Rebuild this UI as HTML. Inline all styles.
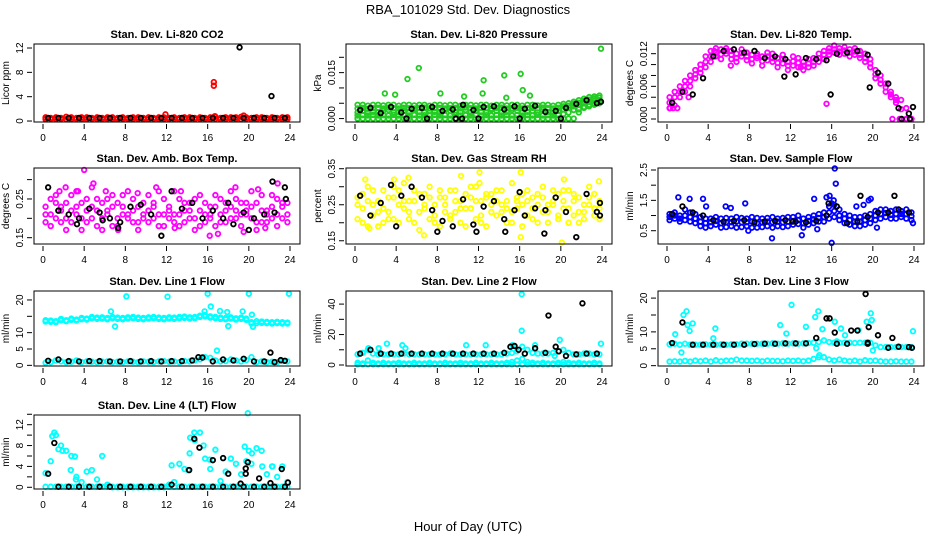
<!DOCTYPE html>
<html><head><meta charset="utf-8">
<style>
html,body{margin:0;padding:0;background:#fff;}
svg{display:block;font-family:"Liberation Sans",sans-serif;}
</style></head>
<body>
<svg id="chart" width="936" height="540" viewBox="0 0 936 540">
<text x="468" y="14" text-anchor="middle" font-size="13">RBA_101029  Std. Dev. Diagnostics</text>
<text x="468" y="531" text-anchor="middle" font-size="13">Hour of Day (UTC)</text>
</svg>
<script>
const hrs48=[0.25,0.75,1.25,1.75,2.25,2.75,3.25,3.75,4.25,4.75,5.25,5.75,6.25,6.75,7.25,7.75,8.25,8.75,9.25,9.75,10.25,10.75,11.25,11.75,12.25,12.75,13.25,13.75,14.25,14.75,15.25,15.75,16.25,16.75,17.25,17.75,18.25,18.75,19.25,19.75,20.25,20.75,21.25,21.75,22.25,22.75,23.25,23.75];
const hrs24=[0.5,1.5,2.5,3.5,4.5,5.5,6.5,7.5,8.5,9.5,10.5,11.5,12.5,13.5,14.5,15.5,16.5,17.5,18.5,19.5,20.5,21.5,22.5,23.5];
const xTicks=[0,4,8,12,16,20,24];

const co2A=[0.6,0.5,0.6,0.5,0.7,0.6,0.5,0.6,0.6,0.5,0.6,0.5,0.6,0.6,0.5,0.6,0.5,0.6,0.6,0.5,0.6,0.5,0.6,0.6,0.5,0.6,0.5,0.6,0.6,0.5,0.6,0.5,0.6,0.7,0.5,0.6,0.6,0.6,0.7,0.6,0.5,0.6,0.6,0.5,0.6,0.5,0.6,0.6];
const co2B=[0.3,0.35,0.3,0.35,0.3,0.3,0.35,0.3,0.3,0.35,0.3,0.3,0.35,0.3,0.3,0.35,0.3,0.3,0.35,0.3,0.3,0.35,0.3,0.3,0.35,0.3,0.3,0.35,0.3,0.3,0.35,0.3,0.3,0.35,0.3,0.3,0.35,0.3,0.3,0.35,0.3,0.3,0.35,0.3,0.3,0.35,0.3,0.3];
const co2OutX=[16.6,16.6,11.9,19.5,16.7];
const co2OutY=[6.4,5.8,1.1,0.9,0.8];
const co2Blk=[0.5,0.5,0.5,0.5,0.5,0.5,0.5,0.5,0.5,0.5,0.5,0.5,0.5,0.5,0.5,0.5,0.5,0.5,0.5,0.5,0.5,0.5,0.5,0.5];
const co2BlkOutX=[19.1,22.2];
const co2BlkOutY=[12.1,4.1];

const presA=[0.0045,0.0045,0.0042,0.0045,0.0045,0.0043,0.0045,0.0045,0.0042,0.0045,0.0045,0.0043,0.0045,0.0045,0.0042,0.0045,0.0045,0.0043,0.0045,0.0045,0.0042,0.0045,0.0045,0.0043,0.0045,0.0045,0.0042,0.0045,0.0045,0.0043,0.0045,0.0045,0.0042,0.0045,0.0045,0.0043,0.0045,0.0045,0.0042,0.0045,0.0048,0.005,0.0055,0.006,0.0065,0.007,0.0072,0.0075];
const presB=[0.002,0.0025,0.002,0.0022,0.002,0.0025,0.0028,0.002,0.0022,0.0025,0.002,0.0028,0.0022,0.002,0.0025,0.0022,0.002,0.0028,0.0025,0.002,0.0022,0.0028,0.002,0.0025,0.0022,0.002,0.0028,0.0025,0.002,0.0022,0.0028,0.0025,0.002,0.0022,0.0025,0.002,0.0028,0.0022,0.002,0.0025,0.003,0.0035,0.004,0.0045,0.005,0.0055,0.006,0.006];
const presC=[0.0,0.0,0.0,0.0,0.0,0.0,0.0,0.0,0.0,0.0,0.0,0.0,0.0,0.0,0.0,0.0,0.0,0.0,0.0,0.0,0.0,0.0,0.0,0.0,0.0,0.0,0.0,0.0,0.0,0.0,0.0,0.0,0.0,0.0,0.0,0.0,0.0,0.0,0.0,0.0,0.0,0.0,0.0,0.002,0.0035,0.004,0.0045,0.005];
const presD=[0.0033,0.0035,0.0032,0.0034,0.0035,0.0033,0.0036,0.0034,0.0033,0.0035,0.0034,0.0033,0.0035,0.0036,0.0033,0.0034,0.0035,0.0033,0.0034,0.0035,0.0033,0.0036,0.0034,0.0033,0.0035,0.0034,0.0033,0.0035,0.0036,0.0033,0.0034,0.0035,0.0033,0.0034,0.0035,0.0033,0.0036,0.0034,0.0033,0.0035,0.004,0.0042,0.0048,0.0052,0.0058,0.0062,0.0066,0.0068];
const presE=[0.001,0.0011,0.001,0.0012,0.001,0.0011,0.001,0.0012,0.001,0.0011,0.001,0.0012,0.001,0.0011,0.001,0.0012,0.001,0.0011,0.001,0.0012,0.001,0.0011,0.001,0.0012,0.001,0.0011,0.001,0.0012,0.001,0.0011,0.001,0.0012,0.001,0.0011,0.001,0.0012,0.001,0.0011,0.001,0.0012,0.0015,0.002,0.0028,0.003,0.0038,0.0045,0.005,0.0055];
const presOutX=[2.9,3.9,5.1,6.2,8.3,10.6,12.4,12.5,14.5,14.7,16.1,16.3,17.0,23.9];
const presOutY=[0.0082,0.0078,0.0129,0.0165,0.0082,0.0072,0.0082,0.0125,0.0141,0.0068,0.0146,0.0093,0.0075,0.0228];
const presBlk=[0.0028,0.0035,0.0018,0.0038,0.002,0.0032,0.0035,0.0038,0.0025,0.003,0.0045,0.0028,0.0038,0.004,0.003,0.004,0.0032,0.0042,0.0022,0.0025,0.0035,0.0048,0.006,0.005];
const presBlkOutX=[5,7,10.4,12,16,20,9.8,23.9];
const presBlkOutY=[0,0,0,0,0,0,0,0.0055];

const tempA=[0.004,0.005,0.006,0.007,0.008,0.009,0.010,0.0115,0.0125,0.013,0.0128,0.013,0.0125,0.012,0.0128,0.0122,0.0118,0.012,0.0115,0.0122,0.012,0.0112,0.0118,0.0105,0.0115,0.0112,0.0105,0.011,0.0112,0.012,0.0125,0.013,0.0135,0.013,0.0132,0.0128,0.013,0.0125,0.012,0.011,0.009,0.008,0.0065,0.005,0.004,0.0035,0.002,0.0];
const tempB=[0.002,0.0025,0.004,0.005,0.006,0.0075,0.0085,0.0095,0.0105,0.0115,0.011,0.012,0.011,0.0105,0.0115,0.0108,0.0102,0.0112,0.0098,0.0108,0.0105,0.0095,0.0102,0.009,0.0098,0.0095,0.009,0.0095,0.0098,0.0105,0.011,0.0118,0.0122,0.0118,0.012,0.0115,0.0118,0.0112,0.0105,0.0095,0.0075,0.0065,0.005,0.004,0.003,0.0,0.0,0.0];
const tempC=[0.003,0.004,0.005,0.006,0.007,0.0082,0.0092,0.0105,0.0115,0.0122,0.0119,0.0125,0.0118,0.0112,0.0121,0.0115,0.011,0.0116,0.0106,0.0115,0.0112,0.0103,0.011,0.0098,0.0106,0.0103,0.0098,0.0102,0.0105,0.0112,0.0118,0.0124,0.0128,0.0124,0.0126,0.0122,0.0124,0.0118,0.0112,0.0102,0.0082,0.0072,0.0058,0.0045,0.0035,0.0018,0.0,0.0];
const tempOutX=[15.5,2.1,6.2,0.3,0.6,1.0,21.9,22.6,23.3,4.6,13.0];
const tempOutY=[0.0028,0.004,0.0098,0.002,0.002,0.002,0.0,0.0,0.0,0.0125,0.0095];
const tempBlk=[0.003,0.005,0.0045,0.0075,0.0115,0.0125,0.0128,0.0122,0.0125,0.0112,0.0115,0.011,0.0082,0.0112,0.011,0.0108,0.012,0.0122,0.0125,0.0118,0.0085,0.0065,0.002,0.001];
const tempBlkOutX=[23.6,23.9,22.8,15.9,11.4,19.7];
const tempBlkOutY=[0,0.0022,0.0,0.0045,0.0078,0.0058];

const ambA=[0.23,0.21,0.26,0.19,0.24,0.22,0.27,0.2,0.25,0.23,0.18,0.24,0.22,0.26,0.2,0.23,0.21,0.25,0.19,0.24,0.22,0.2,0.27,0.21,0.23,0.19,0.25,0.22,0.24,0.2,0.26,0.21,0.23,0.18,0.25,0.22,0.27,0.2,0.24,0.21,0.23,0.19,0.26,0.22,0.2,0.25,0.23,0.21];
const ambB=[0.19,0.25,0.2,0.23,0.17,0.26,0.21,0.24,0.19,0.28,0.22,0.2,0.25,0.18,0.24,0.21,0.27,0.19,0.23,0.2,0.26,0.24,0.18,0.25,0.2,0.27,0.21,0.19,0.22,0.25,0.18,0.24,0.2,0.26,0.21,0.19,0.23,0.25,0.18,0.22,0.27,0.24,0.19,0.21,0.26,0.18,0.2,0.24];
const ambC=[0.21,0.18,0.24,0.22,0.2,0.19,0.23,0.17,0.22,0.2,0.25,0.17,0.21,0.23,0.18,0.26,0.2,0.22,0.17,0.21,0.19,0.23,0.21,0.18,0.22,0.21,0.18,0.24,0.2,0.17,0.22,0.19,0.21,0.23,0.19,0.24,0.2,0.22,0.21,0.24,0.2,0.17,0.22,0.19,0.23,0.21,0.24,0.19];
const ambOutX=[4.0,11.0,16.2,17.0,19.5,2.2,4.9,7.3,12.8,21.6,22.8,1.6,3.4,6.1,9.2,13.4,18.7,20.9];
const ambOutY=[0.325,0.28,0.155,0.16,0.165,0.28,0.29,0.17,0.175,0.175,0.29,0.27,0.27,0.27,0.265,0.27,0.28,0.275];
const ambBlk=[0.28,0.22,0.21,0.2,0.225,0.215,0.2,0.19,0.23,0.235,0.21,0.155,0.27,0.225,0.24,0.2,0.22,0.2,0.185,0.215,0.2,0.21,0.215,0.28];
const ambBlkOutX=[1.5,3.3,5.8,7.3,18.0,20.0,22.3,23.6];
const ambBlkOutY=[0.22,0.185,0.195,0.175,0.24,0.17,0.295,0.25];

const rhA=[0.27,0.24,0.3,0.22,0.26,0.29,0.23,0.27,0.25,0.31,0.21,0.26,0.28,0.24,0.3,0.22,0.27,0.25,0.29,0.23,0.26,0.28,0.24,0.3,0.22,0.27,0.25,0.29,0.23,0.26,0.31,0.24,0.28,0.22,0.27,0.25,0.3,0.23,0.26,0.28,0.24,0.29,0.22,0.27,0.25,0.3,0.24,0.26];
const rhB=[0.21,0.28,0.19,0.25,0.23,0.2,0.27,0.21,0.29,0.24,0.26,0.2,0.23,0.28,0.21,0.25,0.19,0.27,0.22,0.29,0.2,0.24,0.27,0.21,0.26,0.19,0.28,0.22,0.25,0.2,0.23,0.27,0.19,0.26,0.21,0.28,0.23,0.2,0.25,0.22,0.29,0.2,0.26,0.23,0.21,0.27,0.22,0.24];
const rhC=[0.25,0.2,0.26,0.29,0.19,0.24,0.21,0.3,0.2,0.26,0.23,0.29,0.18,0.25,0.27,0.2,0.29,0.23,0.21,0.26,0.24,0.19,0.3,0.26,0.2,0.28,0.23,0.26,0.29,0.24,0.2,0.26,0.25,0.29,0.24,0.2,0.27,0.25,0.29,0.21,0.26,0.24,0.28,0.2,0.23,0.25,0.28,0.21];
const rhOutX=[1.0,3.8,5.2,10.3,12.1,12.1,16.1,16.1,20.1,23.7,1.4,6.7,20.3];
const rhOutY=[0.32,0.32,0.325,0.33,0.34,0.31,0.34,0.16,0.145,0.315,0.185,0.165,0.32];
const rhBlk=[0.275,0.22,0.255,0.305,0.275,0.3,0.27,0.235,0.205,0.19,0.265,0.195,0.245,0.26,0.21,0.235,0.22,0.24,0.235,0.27,0.23,0.16,0.28,0.23];
const rhBlkOutX=[4,8,11.8,14.6,16,18.4,23.8,23.8];
const rhBlkOutY=[0.19,0.175,0.175,0.175,0.285,0.17,0.255,0.22];

const flowA=[1.05,1.1,1.0,1.2,1.1,1.05,0.95,0.9,0.9,0.95,0.9,0.92,0.9,0.95,0.92,0.9,0.95,0.92,0.9,0.92,0.95,0.9,0.92,0.95,0.95,1.0,0.9,0.95,1.0,1.05,1.1,1.3,1.35,1.2,1.05,1.0,0.95,0.95,1.0,1.05,1.15,1.2,1.2,1.15,1.2,1.15,1.2,1.1];
const flowB=[0.85,0.9,0.8,0.85,0.8,0.75,0.65,0.6,0.65,0.7,0.6,0.62,0.65,0.6,0.62,0.65,0.6,0.6,0.62,0.65,0.6,0.65,0.62,0.65,0.7,0.72,0.6,0.7,0.75,0.8,0.8,0.9,0.95,0.85,0.75,0.7,0.65,0.65,0.7,0.75,0.85,0.9,0.95,0.9,0.9,0.95,0.9,0.85];
const flowC=[0.95,1.0,0.9,1.0,0.95,0.9,0.8,0.75,0.78,0.82,0.75,0.78,0.78,0.8,0.78,0.78,0.8,0.75,0.78,0.8,0.78,0.8,0.78,0.8,0.82,0.85,0.75,0.82,0.88,0.92,0.95,1.1,1.15,1.0,0.9,0.85,0.8,0.8,0.85,0.9,1.0,1.05,1.08,1.02,1.05,1.05,1.05,0.98];
const flowOutX=[1.1,2.2,3.5,3.8,5.7,6.2,7.6,7.9,10.2,15.5,15.8,14.3,16.0,16.0,16.3,16.4,16.2,13.1,18.4,19.6,19.8,19.1,20.4,23.9,14.6];
const flowOutY=[1.6,1.55,1.55,1.3,1.3,1.25,1.4,0.5,0.25,1.6,1.65,1.55,0.1,1.4,2.55,2.05,1.5,0.35,1.3,1.5,1.55,1.35,0.6,0.75,0.55];
const flowBlk=[1.05,1.3,1.1,1.0,0.85,0.8,0.82,0.85,0.78,0.8,0.82,0.85,0.8,0.78,0.82,1.0,1.3,0.75,0.8,0.95,1.1,1.1,1.2,1.1];
const flowBlkOutX=[18.8,22.1,12.2,15.7];
const flowBlkOutY=[1.65,1.65,0.8,1.4];

const l1A=[13.8,13.7,13.5,14.2,13.8,14.3,14.0,14.5,14.3,14.8,14.6,14.7,14.5,14.8,14.6,14.5,14.7,14.8,14.6,14.5,14.7,14.8,14.6,14.5,14.7,14.6,14.8,14.9,14.7,14.8,15.2,15.4,15.0,14.8,14.6,14.5,14.7,14.4,14.6,14.3,13.2,13.5,13.4,13.3,13.2,13.3,13.2,13.1];
const l1B=[13.4,13.3,13.2,13.8,13.5,13.9,13.7,14.1,14.0,14.4,14.2,14.3,14.1,14.4,14.2,14.1,14.3,14.4,14.2,14.1,14.3,14.4,14.2,14.1,14.3,14.2,14.4,14.5,14.3,14.4,14.8,15.0,14.6,14.4,14.2,14.1,14.3,14.0,14.2,13.9,12.8,12.9,13.0,12.9,12.8,12.9,12.8,12.8];
const l1C=[0.8,1.0,1.5,1.2,1.0,1.1,1.5,1.0,1.2,1.1,1.0,1.1,1.2,1.0,1.1,1.0,1.2,1.1,1.0,1.2,1.1,1.0,1.2,1.3,1.1,1.2,1.0,1.3,1.2,1.5,1.8,2.5,2.3,1.5,1.2,1.3,1.8,1.5,1.2,1.6,2.5,1.0,1.2,1.0,1.1,1.0,1.3,1.2];
const l1OutX=[6.6,7.0,8.1,12.1,15.7,17.9,19.4,16.0,16.3,16.9,23.9,20.0,18.0,20.3,20.4,17.2];
const l1OutY=[16.5,11.9,21.1,21.0,16.5,16.3,16.5,21.9,18.0,4.5,21.9,21.9,12.0,15.5,11.8,16.6];
const l1Blk=[1.4,1.8,1.3,1.2,1.3,1.3,1.2,1.2,1.3,1.2,1.3,1.2,1.3,1.3,1.5,2.4,1.2,1.8,1.5,2.0,1.2,1.2,1.0,1.4];
const l1BlkOutX=[22.1,23.1,15.1];
const l1BlkOutY=[3.9,1.6,2.5];

const l2A=[7,8,10,7.5,7,7,7,7,7,7.5,7,7,7,7,7,7,7,7,7.5,7,7,7,7,7,7,7,7,7,7,7.5,8,9,12,10,8,7.5,7.5,7.5,8,9,10,8,7,7,7.5,7.5,7,7];
const l2B=[1.5,1,3,1.5,1,1.5,1,1,1.5,1,1,1.5,1,1,1.5,1,1,1.5,1,1,1.5,1,1,1.5,1,1,1.5,1,1,1.5,2,3,4,2,1.5,1,1.5,1,1,1.5,2,1.5,1,1.5,1,1,1.5,1];
const l2C=[0.4,0.4,0.4,0.4,0.4,0.4,0.4,0.4,0.4,0.4,0.4,0.4,0.4,0.4,0.4,0.4,0.4,0.4,0.4,0.4,0.4,0.4,0.4,0.4,0.4,0.4,0.4,0.4,0.4,0.4,0.4,0.4,0.4,0.4,0.4,0.4,0.4,0.4,0.4,0.4,0.4,0.4,0.4,0.4,0.4,0.4,0.4,0.4];
const l2OutX=[1.3,2.3,3.1,4.6,4.9,10.8,12.7,15.3,16.2,16.2,17.5,19.9,23.9,19.4];
const l2OutY=[11,11,14,13,11,13,13,13,22.5,46.5,13,16.5,14,6];
const l2Blk=[7.5,10,7.5,7.5,7.5,7.5,7.5,7.5,7.5,7.5,7.5,7.5,7.5,7.5,8,12.5,7.5,11,8,12,6,7,7.5,7.5];
const l2BlkOutX=[18.8,22.1,19.8,15.9,15.1];
const l2BlkOutY=[32.5,40.5,9,10,12];

const l3A=[6.3,6.5,6.2,6.5,6.2,6.2,6.2,6.3,6.2,6.2,6.3,6.2,6.3,6.3,6.5,6.5,6.5,6.5,6.5,6.5,6.6,6.5,6.6,6.5,6.6,6.5,6.6,6.7,6.8,7,7.5,7,6.8,6.8,6.8,6.8,6.7,6.8,6.8,6.8,6,5.5,5.5,5.5,5.5,5.5,5.5,5.5];
const l3B=[1.2,1.3,1.2,1.4,1.2,1.5,1.3,1.5,1.2,1.6,1.3,1.5,1.5,1.8,1.5,1.5,1.4,1.5,1.3,1.5,1.4,1.4,1.3,1.5,1.4,1.5,1.3,1.5,2,2.5,2.5,1.8,1.5,1.8,1.5,1.3,1.5,1.2,1.6,1.4,1.5,1.3,1.2,1.2,1.3,1.2,1.2,1.2];
const l3OutX=[0.8,1.6,1.9,1.4,2.2,2.5,2.0,4.7,4.5,12.1,11.0,11.6,13.5,14.7,14.4,15.1,14.5,16.3,16.9,17.3,18.6,19.4,19.8,19.9,20.0,23.9,14.8,16.5];
const l3OutY=[9.3,15,16.1,3.9,10.3,12.5,12.0,11,8.1,18,12,9.5,11.5,16.1,14.4,10.8,5.2,13,11,9,10.5,13,15.5,13.5,4.5,10.2,3.1,7.2];
const l3Blk=[6.7,12.8,6.2,6.2,6.2,6.2,6.2,6.2,6.4,6.5,6.5,6.6,6.6,6.6,8.2,14,6.5,6.5,10.4,6.8,9,5.3,5.6,5.5];
const l3BlkOutX=[15.8,16.3,17.9,19.3,19.6,19.5,21.9,23.8];
const l3BlkOutY=[14,9.8,10.4,21.2,11.4,6.5,8.2,5.3];

const l4A=[2.7,5,10,8,7,6,2,1,3,3.3,1.5,6,0.5,0,0,0,0,0,0,0,0,0,0,0,0.5,1,4.5,3.5,6.5,9,10.5,5.5,3.5,7.2,1.2,3,5.5,4.5,2.5,5,4.5,7.5,7,2.5,4,2,4,1];
const l4B=[0.1,0.1,0.1,0.1,0.1,0.1,0.1,0.1,0.1,0.1,0.1,0.1,0.1,0.1,0.1,0.1,0.1,0.1,0.1,0.1,0.1,0.1,0.1,0.1,0.1,0.1,0.1,0.1,0.1,0.1,0.1,0.1,0.1,0.1,0.1,0.1,0.1,0.1,0.1,0.1,0.1,0.1,0.1,0.1,0.1,0.1,0.1,0.1];
const l4OutX=[1.1,0.9,1.5,1.9,3.1,14.1,14.3,14.7,15.6,16.2,17.5,19.6,19.9,20.0,20.3,12.5,21.3,22.3,3.2,2.7];
const l4OutY=[10.5,9.8,7.3,7.0,5.9,3.3,9.5,10.5,8.0,5.3,5.6,7.8,14.2,7.0,6.5,4.2,4.0,4.0,1.5,3.3];
const l4Blk=[2.6,0.1,0.1,0.1,0.1,0.1,0.1,0.1,0.1,0.1,0.1,0.1,0.5,0.1,0.1,0.1,0.1,0.1,0.1,0.1,0.1,0.1,0.1,0.1];
const l4BlkOutX=[1.1,14.2,14.7,15.2,16.5,17.5,18.0,19.2,19.7,19.7,19.9,21.0,22.1,23.2,23.8];
const l4BlkOutY=[8.5,3.3,9.3,7.6,5.2,5.6,2.6,0.7,2.6,3.6,4.8,1.7,0.8,3.5,0.9];

const NS="http://www.w3.org/2000/svg";
const svg=document.getElementById('chart');
function mk(tag,attrs,parent){const e=document.createElementNS(NS,tag);for(const k in attrs)e.setAttribute(k,attrs[k]);(parent||svg).appendChild(e);return e;}

const panels=[
 {key:'co2',title:'Stan. Dev. Li-820 CO2',ylab:'Licor ppm',col:0,row:0,ylim:[-0.16,12.66],ticks:[0,4,8,12],labels:[0,4,8,12],color:'#ff0000',fmt:v=>String(v),
  series:[co2A,co2B],ox:co2OutX,oy:co2OutY,blk:co2Blk,bx:co2BlkOutX,by:co2BlkOutY},
 {key:'pressure',title:'Stan. Dev. Li-820 Pressure',ylab:'kPa',col:1,row:0,ylim:[-0.00112,0.02434],ticks:[0,0.005,0.01,0.015,0.02],labels:[0,0.015],color:'#22cc22',fmt:v=>v.toFixed(3),
  series:[presA,presB,presC,presD,presE],ox:presOutX,oy:presOutY,blk:presBlk,bx:presBlkOutX,by:presBlkOutY},
 {key:'temp',title:'Stan. Dev. Li-820 Temp.',ylab:'degrees C',col:2,row:0,ylim:[-0.00055,0.01378],ticks:[0,0.002,0.004,0.006,0.008,0.01,0.012],labels:[0,0.006,0.012],color:'#ff00ff',fmt:v=>v.toFixed(3),
  series:[tempA,tempB,tempC],ox:tempOutX,oy:tempOutY,blk:tempBlk,bx:tempBlkOutX,by:tempBlkOutY},
 {key:'ambbox',title:'Stan. Dev. Amb. Box Temp.',ylab:'degrees C',col:0,row:1,ylim:[0.1337,0.33],ticks:[0.15,0.2,0.25,0.3],labels:[0.15,0.25],color:'#ff00ff',fmt:v=>v.toFixed(2),
  series:[ambA,ambB,ambC],ox:ambOutX,oy:ambOutY,blk:ambBlk,bx:ambBlkOutX,by:ambBlkOutY},
 {key:'rh',title:'Stan. Dev. Gas Stream RH',ylab:'percent',col:1,row:1,ylim:[0.141,0.352],ticks:[0.15,0.2,0.25,0.3,0.35],labels:[0.15,0.25,0.35],color:'#ffff00',fmt:v=>v.toFixed(2),
  series:[rhA,rhB,rhC],ox:rhOutX,oy:rhOutY,blk:rhBlk,bx:rhBlkOutX,by:rhBlkOutY},
 {key:'sampleflow',title:'Stan. Dev. Sample Flow',ylab:'ml/min',col:2,row:1,ylim:[0.062,2.566],ticks:[0.5,1,1.5,2,2.5],labels:[0.5,1.5,2.5],color:'#0000ff',fmt:v=>v.toFixed(1),
  series:[flowA,flowB,flowC],ox:flowOutX,oy:flowOutY,blk:flowBlk,bx:flowBlkOutX,by:flowBlkOutY},
 {key:'line1',title:'Stan. Dev. Line 1 Flow',ylab:'ml/min',col:0,row:2,ylim:[-0.2,22.74],ticks:[0,5,10,15,20],labels:[0,5,10,20],color:'#00ffff',fmt:v=>String(v),
  series:[l1A,l1B,l1C],ox:l1OutX,oy:l1OutY,blk:l1Blk,bx:l1BlkOutX,by:l1BlkOutY},
 {key:'line2',title:'Stan. Dev. Line 2 Flow',ylab:'ml/min',col:1,row:2,ylim:[-0.65,48.6],ticks:[0,10,20,30,40],labels:[0,20,40],color:'#00ffff',fmt:v=>String(v),
  series:[l2A,l2B,l2C],ox:l2OutX,oy:l2OutY,blk:l2Blk,bx:l2BlkOutX,by:l2BlkOutY},
 {key:'line3',title:'Stan. Dev. Line 3 Flow',ylab:'ml/min',col:2,row:2,ylim:[-0.1,22.1],ticks:[0,5,10,15,20],labels:[0,5,10,20],color:'#00ffff',fmt:v=>String(v),
  series:[l3A,l3B],ox:l3OutX,oy:l3OutY,blk:l3Blk,bx:l3BlkOutX,by:l3BlkOutY},
 {key:'line4',title:'Stan. Dev. Line 4 (LT) Flow',ylab:'ml/min',col:0,row:3,ylim:[-0.33,13.86],ticks:[0,2,4,6,8,10,12,14],labels:[0,4,8,12],color:'#00ffff',fmt:v=>String(v),
  series:[l4A,l4B],ox:l4OutX,oy:l4OutY,blk:l4Blk,bx:l4BlkOutX,by:l4BlkOutY}
];
const rowTop=[44,168,291,415], rowBot=[122,244,366,489];

panels.forEach(p=>{
  const g=mk('g',{});
  
  
  const L=34+312*p.col, R=300+312*p.col, T=rowTop[p.row], B=rowBot[p.row];
  const x0=43+312*p.col, x24=290+312*p.col;
  const xs=h=>x0+(x24-x0)*h/24;
  const ys=v=>B-(v-p.ylim[0])/(p.ylim[1]-p.ylim[0])*(B-T);
  const t=mk('text',{x:(L+R)/2,y:T-6,'text-anchor':'middle','font-size':11,'font-weight':'bold'},g);
  t.textContent=p.title;
  
  
  const pts=mk('g',{fill:'none','stroke-width':1.8},g);
  
  
  const dot=(h,v,c)=>{const y=ys(v);if(y<T-3||y>B+3)return;const e=mk('circle',{cx:xs(h),cy:y,r:2.3,stroke:c},pts);
    
    };
  p.series.forEach(s=>s.forEach((v,i)=>dot(hrs48[i],v,p.color)));
  p.ox.forEach((h,i)=>dot(h,p.oy[i],p.color));
  p.blk.forEach((v,i)=>dot(hrs24[i],v,'#000'));
  p.bx.forEach((h,i)=>dot(h,p.by[i],'#000'));
  const box=mk('rect',{x:L,y:T,width:R-L,height:B-T,fill:'none',stroke:'#000','stroke-width':1},g);
  
  
  const xa=mk('g',{},g);
  
  
  xTicks.forEach(h=>{mk('line',{x1:xs(h),x2:xs(h),y1:B+2,y2:B+7,stroke:'#000'},xa);
    const tl=mk('text',{x:xs(h),y:B+19,'text-anchor':'middle','font-size':10},xa);tl.textContent=h;
    
    });
  const ya=mk('g',{},g);
  
  
  p.ticks.forEach(v=>mk('line',{x1:L-7,x2:L-2,y1:ys(v),y2:ys(v),stroke:'#000'},ya));
  p.labels.forEach(v=>{const tx=L-11, ty=ys(v);
    const tl=mk('text',{x:tx,y:ty,'text-anchor':'middle','font-size':10,transform:`rotate(-90 ${tx} ${ty})`},ya);tl.textContent=p.fmt(v);
    
    });
  const yt=mk('text',{x:L-25,y:(T+B)/2,'text-anchor':'middle','font-size':10,transform:`rotate(-90 ${L-25} ${(T+B)/2})`},ya);
  yt.textContent=p.ylab;
  
  
});
</script>
</body></html>
